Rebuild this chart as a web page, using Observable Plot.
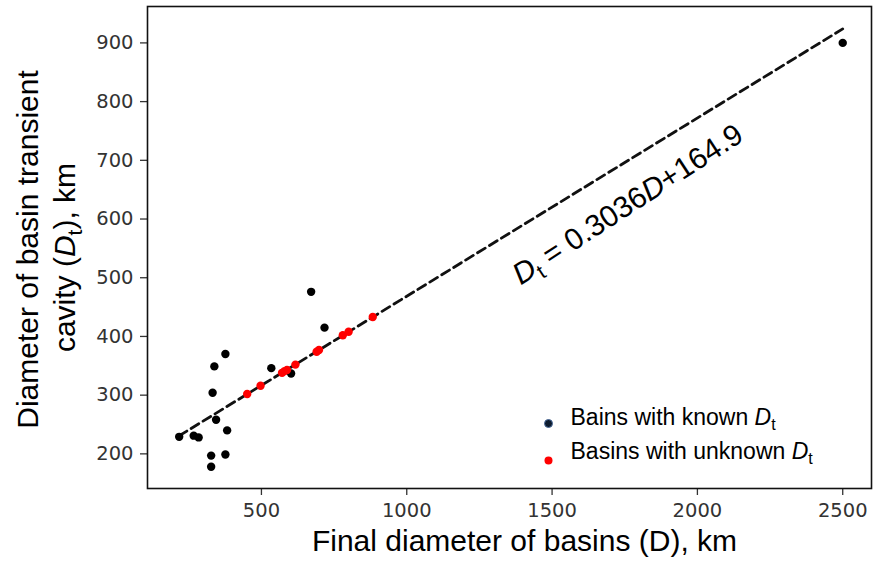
<!DOCTYPE html>
<html>
<head>
<meta charset="utf-8">
<script src="https://cdn.jsdelivr.net/npm/d3@7"></script>
<script src="https://cdn.jsdelivr.net/npm/@observablehq/plot@0.6"></script>
<style>
  html, body { margin: 0; padding: 0; background: #fff; }
  #chart svg { display: block; }
</style>
</head>
<body>
<div id="chart"></div>
<script>
// ---- data ----
const knownD  = [217, 267, 284, 327, 327, 376, 382, 344, 332, 338, 376, 534, 602, 671, 717, 2500];
const knownDt = [229, 231, 228, 178, 197, 199, 240, 258, 304, 349, 370, 346, 337, 476, 415, 900];
const unknownD  = [451, 497, 571, 580, 588, 617, 690, 698, 780, 800, 883];
const unknownDt = [302, 316, 338, 341, 343, 352, 374, 377, 402, 408, 433];
const fitSlope = 0.3036;
const fitIntercept = 164.9;
const fitRange = [217, 2500];
const xTicks = [500, 1000, 1500, 2000, 2500];
const yTicks = [200, 300, 400, 500, 600, 700, 800, 900];
const xLabel = "Final diameter of basins (D), km";
const yLabelLine1 = "Diameter of basin transient";
const yLabelLine2 = [{s: "cavity ("}, {s: "D", i: true}, {s: "t", sub: true}, {s: "), km"}];
const eqParts = [{s: "D", i: true}, {s: "t", sub: true}, {s: " = 0.3036"}, {s: "D", i: true}, {s: "+164.9"}];
const legendParts = [
  [{s: "Bains with known "}, {s: "D", i: true}, {s: "t", sub: true}],
  [{s: "Basins with unknown "}, {s: "D", i: true}, {s: "t", sub: true}]
];
const eqAnchorD = 1750;

const known = knownD.map((d, i) => ({D: d, Dt: knownDt[i]}));
const unknown = unknownD.map((d, i) => ({D: d, Dt: unknownDt[i]}));
const fitLine = fitRange.map(d => ({D: d, Dt: fitSlope * d + fitIntercept}));
const sans = "'Liberation Sans', Arial, sans-serif";

const plot = Plot.plot({
  width: 873,
  height: 572,
  marginTop: 6,
  marginRight: 2,
  marginBottom: 84,
  marginLeft: 147,
  style: {fontFamily: "'DejaVu Sans', sans-serif", background: "#fff", overflow: "visible"},
  x: {domain: [108, 2599]},
  y: {domain: [141, 962]},
  marks: [
    Plot.axisX({ticks: xTicks, tickFormat: d3.format("d"), tickSize: 7, tickPadding: 8, fontSize: 19.5, label: null, color: "#333", strokeWidth: 1.3}),
    Plot.axisY({ticks: yTicks, tickFormat: d3.format("d"), tickSize: 7, tickPadding: 7, fontSize: 19.5, label: null, color: "#333", strokeWidth: 1.3}),
    Plot.line(fitLine, {x: "D", y: "Dt", stroke: "#111", strokeWidth: 2.8, strokeDasharray: "9,5"}),
    Plot.dot(known, {x: "D", y: "Dt", r: 4.2, fill: "#000", stroke: "none"}),
    Plot.dot(unknown, {x: "D", y: "Dt", r: 4.2, fill: "#f00", stroke: "none"}),
    Plot.text([eqAnchorD], {x: d => d, y: d => fitSlope * d + fitIntercept, text: () => "eq", rotate: -33, dx: 3, dy: 42, fontSize: 30, fontFamily: sans, fill: "#000", className: "eqlabel"}),
    Plot.text([xLabel], {frameAnchor: "bottom", text: d => d, textAnchor: "middle", dx: 15, dy: 62, fontSize: 30, fontFamily: sans, fill: "#000"}),
    Plot.text([yLabelLine1], {frameAnchor: "left", text: d => d, textAnchor: "middle", rotate: -90, dx: -119, dy: 2, fontSize: 30, fontFamily: sans, fill: "#000"}),
    Plot.text(["l2"], {frameAnchor: "left", text: d => d, textAnchor: "middle", rotate: -90, dx: -82, dy: 10, fontSize: 30, fontFamily: sans, fill: "#000", className: "ylab2"}),
    Plot.dot([0], {frameAnchor: "bottom-right", dx: -323, dy: -65, r: 4, fill: "#0d1b2e", stroke: "#4a6a9a", strokeWidth: 1}),
    Plot.dot([1], {frameAnchor: "bottom-right", dx: -323, dy: -28, r: 4, fill: "#f00", stroke: "none"}),
    Plot.text([0], {frameAnchor: "bottom-right", text: () => "l", dx: -301, dy: -64, textAnchor: "start", fontSize: 23, fontFamily: sans, fill: "#000", className: "leg0"}),
    Plot.text([1], {frameAnchor: "bottom-right", text: () => "l", dx: -301, dy: -30, textAnchor: "start", fontSize: 23, fontFamily: sans, fill: "#000", className: "leg1"}),
    Plot.frame({stroke: "#111", strokeWidth: 1.6})
  ]
});

function rich(sel, parts, fs) {
  sel.each(function() {
    const t = d3.select(this);
    t.text(null);
    let shifted = false;
    const off = fs * 0.22;
    parts.forEach(p => {
      const ts = t.append("tspan").text(p.s);
      if (p.i) ts.attr("font-style", "italic");
      if (p.sub) {
        ts.attr("font-size", fs * 0.7).attr("dy", off);
        shifted = true;
      } else if (shifted) {
        ts.attr("dy", -off);
        shifted = false;
      }
    });
  });
}
const svg = d3.select(plot);
rich(svg.selectAll("g.eqlabel text"), eqParts, 30);
rich(svg.selectAll("g.ylab2 text"), yLabelLine2, 30);
rich(svg.selectAll("g.leg0 text"), legendParts[0], 23);
rich(svg.selectAll("g.leg1 text"), legendParts[1], 23);

document.getElementById("chart").appendChild(plot);
</script>
</body>
</html>
